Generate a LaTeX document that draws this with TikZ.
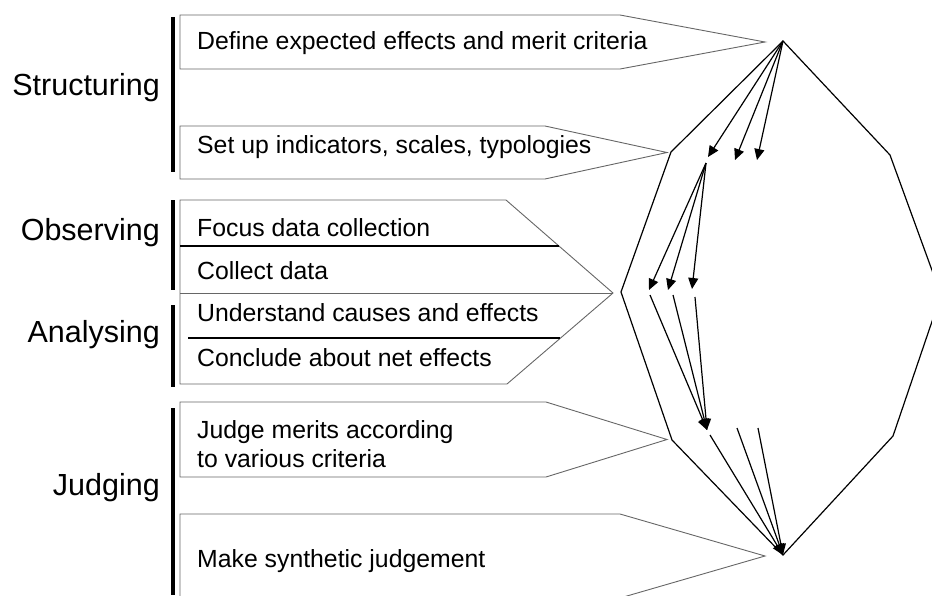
\documentclass[tikz,border=0pt]{standalone}
\usepackage{fontspec}
\setmainfont{Liberation Sans}
\usetikzlibrary{positioning,arrows.meta}

\begin{document}
\begin{tikzpicture}[x=1pt, y=-1pt,
                    >={Triangle[length=11pt,width=10pt]},
                    boxline/.style={draw=black!60, line width=0.9pt},
                    divline/.style={draw=black, line width=1.2pt},
                    phasebar/.style={draw=black, line width=3.8pt},
                    flow/.style={draw=black, line width=1.2pt},
                    phase/.style={anchor=east, inner sep=0pt,
                                  font=\fontsize{30.5}{34}\selectfont},
                    task/.style={anchor=west, inner sep=0pt, align=left,
                                 font=\fontsize{24.8}{29}\selectfont}]
\useasboundingbox (0,0) rectangle (932,595);
\clip (0,0) rectangle (932,595);

\draw[boxline] (180,15) -- (620,15) -- (765,42) -- (620,69) -- (180,69) -- cycle;
\draw[boxline] (180,126) -- (545,126) -- (667,152.5) -- (545,179) -- (180,179) -- cycle;
\draw[boxline] (180,200) -- (506,200) -- (613,293) -- (507,384) -- (180,384) -- cycle;
\draw[boxline] (180,293) -- (613,293);
\draw[divline] (180,246) -- (559,246);
\draw[divline] (188,338) -- (560,338);
\draw[boxline] (180,402) -- (546,402) -- (667,439.5) -- (546,477) -- (180,477) -- cycle;
\draw[boxline] (180,514) -- (620,514) -- (765,556) -- (620,598) -- (180,598) -- cycle;

\draw[phasebar] (173,17) -- (173,172);
\draw[phasebar] (173,200) -- (173,290);
\draw[phasebar] (173,305) -- (173,387);
\draw[phasebar] (173,408) -- (173,595);

\node[phase] (structuring) at (160,88) {Structuring};
\node[phase] (observing) at (160,233) {Observing};
\node[phase] (analysing) at (160,335) {Analysing};
\node[phase] (judging) at (160,488) {Judging};

\node[task] (define) at (197,43) {Define expected effects and merit criteria};
\node[task] (setup) at (197,147) {Set up indicators, scales, typologies};
\node[task] (focus) at (197,228) {Focus data collection};
\node[task] (collect) at (197,271) {Collect data};
\node[task] (understand) at (197,313) {Understand causes and effects};
\node[task] (conclude) at (197,358) {Conclude about net effects};
\node[task] (judge) at (197,444) {Judge merits according\\to various criteria};
\node[task] (synth) at (197,561) {Make synthetic judgement};

\coordinate (top) at (783,41);
\coordinate (ul) at (671,152);
\coordinate (lft) at (621,292);
\coordinate (ll) at (672,440);
\coordinate (bot) at (783,555);
\coordinate (lr) at (893,436);
\coordinate (rgt) at (941,295);
\coordinate (ur) at (890,155);
\draw[flow] (top) -- (ul) -- (lft) -- (ll) -- (bot) -- (lr) -- (rgt) -- (ur) -- cycle;

\coordinate (a1) at (708,157);
\coordinate (a2) at (735,160);
\coordinate (a3) at (757,160);
\coordinate (fan) at (706,163);
\coordinate (b1) at (649,290);
\coordinate (b2) at (668,290);
\coordinate (b3) at (692,289);
\coordinate (c1) at (650,295);
\coordinate (c2) at (673,295);
\coordinate (c3) at (695,297);
\coordinate (conv) at (707,430);
\coordinate (d1) at (710,435);
\coordinate (d2) at (737,428);
\coordinate (d3) at (758,428);

\foreach \t in {a1,a2,a3}
  \draw[flow,->] (top) -- (\t);
\foreach \t in {b1,b2,b3}
  \draw[flow,->] (fan) -- (\t);
\foreach \s in {c1,c2,c3}
  \draw[flow,->] (\s) -- (conv);
\foreach \s in {d1,d2,d3}
  \draw[flow,->] (\s) -- (bot);
\end{tikzpicture}
\end{document}
